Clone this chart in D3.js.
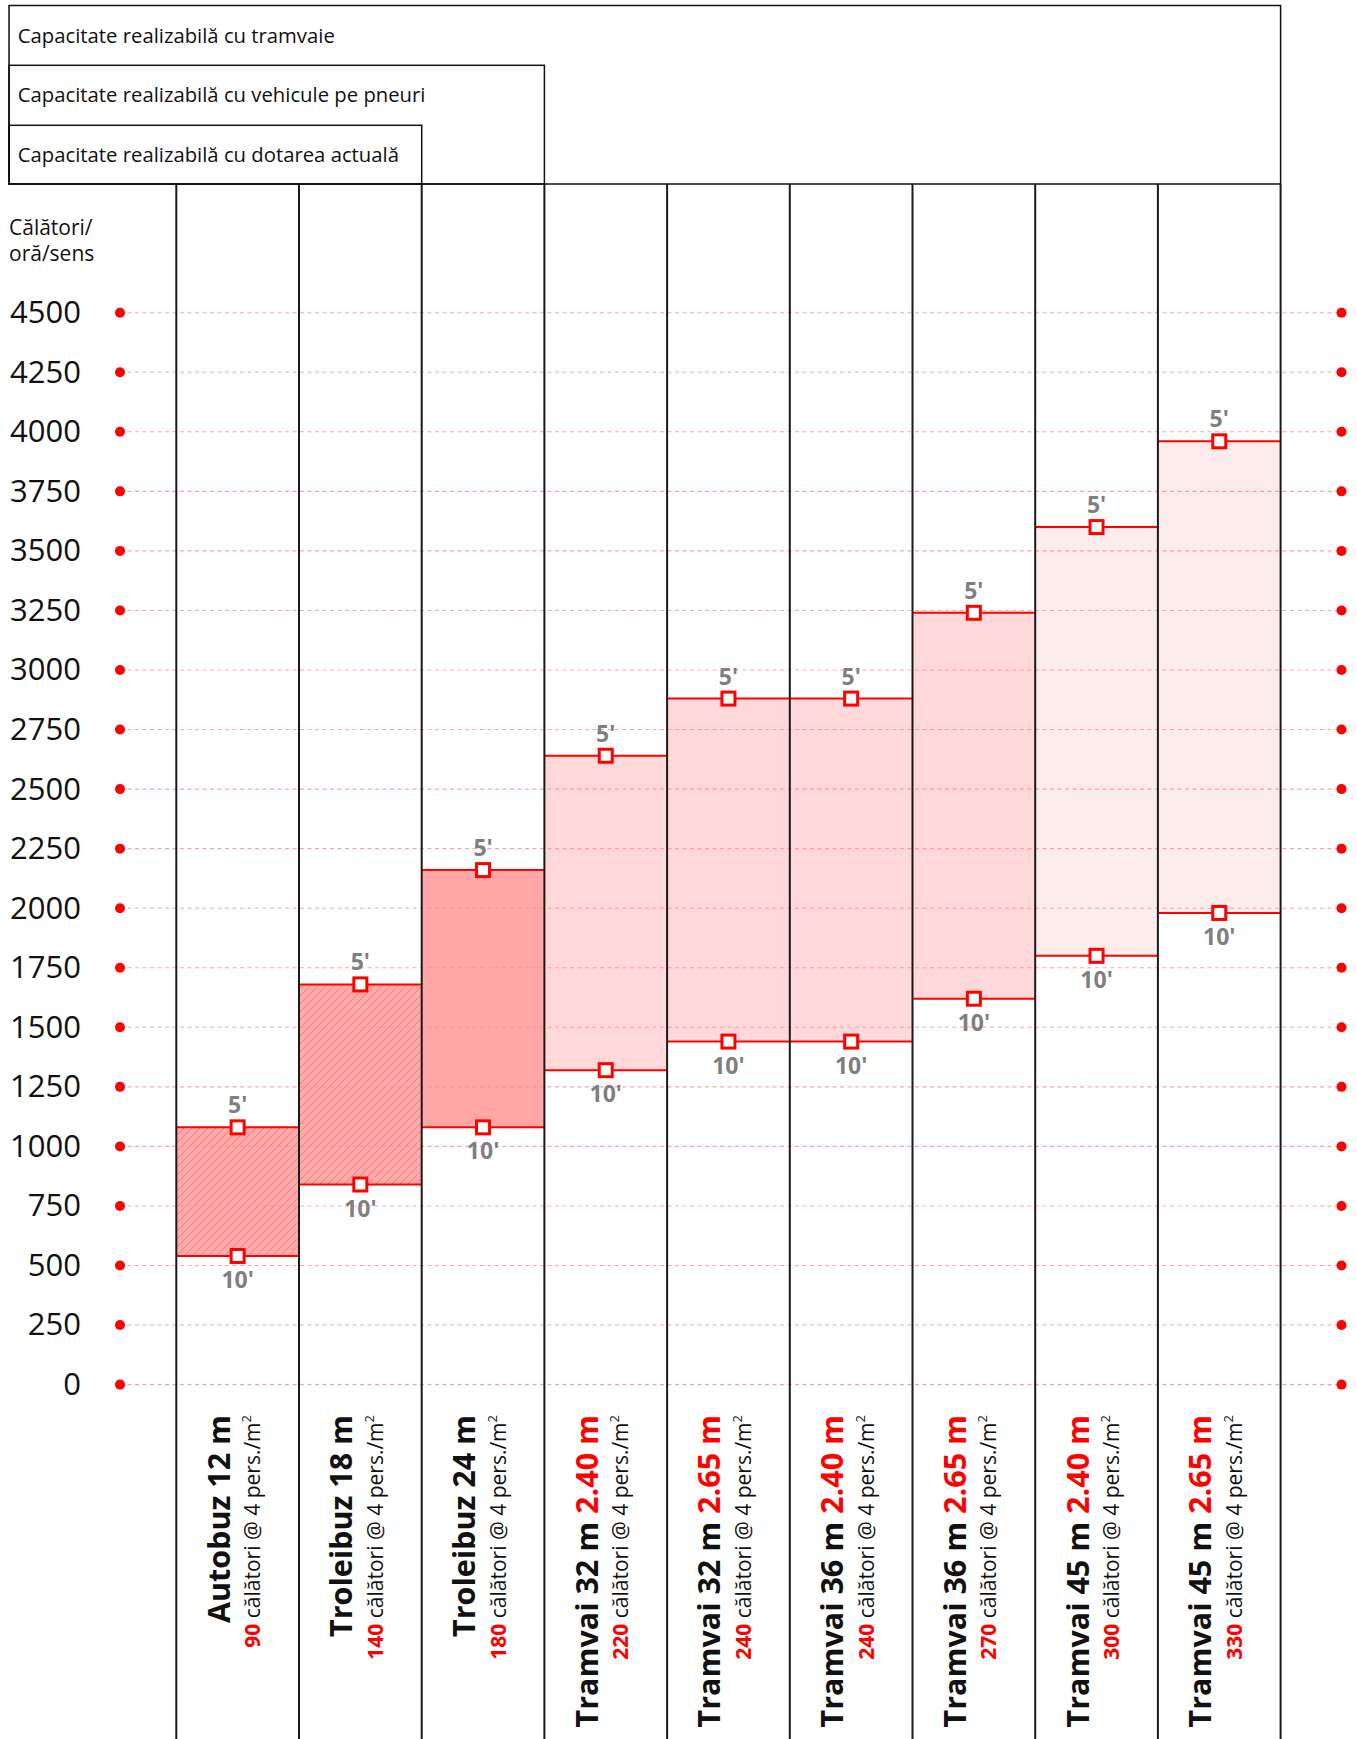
<!DOCTYPE html>
<html>
<head>
<meta charset="utf-8">
<script src="https://cdn.jsdelivr.net/npm/d3@7"></script>
<style>
  body { margin: 0; background: #fff; }
  svg { display: block; font-family: "Open Sans", sans-serif; }
</style>
</head>
<body>
<svg id="chart" width="1357" height="1739"></svg>
<script>
// One column per vehicle type
const vehicles = ["Autobuz 12 m", "Troleibuz 18 m", "Troleibuz 24 m", "Tramvai 32 m", "Tramvai 32 m",
                  "Tramvai 36 m", "Tramvai 36 m", "Tramvai 45 m", "Tramvai 45 m"];
const bodyWidths = ["", "", "", "2.40 m", "2.65 m", "2.40 m", "2.65 m", "2.40 m", "2.65 m"];
const passengers = [90, 140, 180, 220, 240, 240, 270, 300, 330];
// Passengers per hour per direction at a 5-minute and a 10-minute headway
const capacity5 = [1080, 1680, 2160, 2640, 2880, 2880, 3240, 3600, 3960];
const capacity10 = [540, 840, 1080, 1320, 1440, 1440, 1620, 1800, 1980];
// Fleet tier: 0 current fleet, 1 rubber-tyred, 2 tram, 3 long tram
const tiers = [0, 0, 1, 2, 2, 2, 2, 3, 3];
const headwayLabels = ["5'", "10'"];
const yTicks = [0, 250, 500, 750, 1000, 1250, 1500, 1750, 2000, 2250, 2500, 2750, 3000, 3250, 3500, 3750, 4000, 4250, 4500];
const yTitle = ["Călători/", "oră/sens"];
const headerRows = ["Capacitate realizabilă cu tramvaie",
                    "Capacitate realizabilă cu vehicule pe pneuri",
                    "Capacitate realizabilă cu dotarea actuală"];
// last column covered by each header row
const headerLastColumn = [8, 2, 1];
const densityText = " călători @ 4 pers./m";

const svg = d3.select("#chart");
const W = 1357, H = 1739;
const RED = "#ff0000";

const x = d3.scaleBand().domain(d3.range(vehicles.length)).range([176.3, 1280.6]).padding(0);
const y = d3.scaleLinear().domain([0, 4500]).range([1384.6, 312.7]);
const bw = x.bandwidth();
const cx = i => x(i) + bw / 2;

// hatch pattern for the current fleet
const defs = svg.append("defs");
const pat = defs.append("pattern").attr("id", "hatch")
  .attr("patternUnits", "userSpaceOnUse").attr("width", 8).attr("height", 8);
pat.append("rect").attr("width", 8).attr("height", 8).attr("fill", "#ffabab");
pat.append("path").attr("d", "M-2,2 L2,-2 M0,8 L8,0 M6,10 L10,6")
  .attr("stroke", "#ff7878").attr("stroke-width", 1);

const tierFill = ["url(#hatch)", "#ffa6a6", "#ffd9d9", "#fdecec"];

// header boxes
const headerTops = [5.5, 65.3, 125.3];
const headerBottom = 184;
const gHead = svg.append("g");
headerRows.forEach((t, k) => {
  const right = x(headerLastColumn[k]) + bw;
  gHead.append("rect")
    .attr("x", 9).attr("y", headerTops[k])
    .attr("width", right - 9).attr("height", headerBottom - headerTops[k])
    .attr("fill", "none").attr("stroke", "#111").attr("stroke-width", 1.5);
  gHead.append("text")
    .attr("x", 17.8).attr("y", headerTops[k] + 37)
    .attr("font-size", 20.3).attr("fill", "#111").text(t);
});

// y title
svg.append("g").selectAll("text").data(yTitle).join("text")
  .attr("x", 9).attr("y", (d, i) => 235 + i * 25.7)
  .attr("font-size", 21).attr("fill", "#111").text(d => d);

// capacity ranges
const idx = d3.range(vehicles.length);
svg.append("g").selectAll("rect").data(idx).join("rect")
  .attr("x", i => x(i)).attr("width", bw)
  .attr("y", i => y(capacity5[i]))
  .attr("height", i => y(capacity10[i]) - y(capacity5[i]))
  .attr("fill", i => tierFill[tiers[i]]);

// grid lines with end dots
const gGrid = svg.append("g");
gGrid.selectAll("line").data(yTicks).join("line")
  .attr("x1", 120).attr("x2", 1341.5)
  .attr("y1", d => y(d)).attr("y2", d => y(d))
  .attr("stroke", "#ff8c8c").attr("stroke-opacity", 0.8)
  .attr("stroke-width", 1.1).attr("stroke-dasharray", "4,3.5");
gGrid.selectAll("circle.l").data(yTicks).join("circle").attr("class", "l")
  .attr("cx", 120).attr("cy", d => y(d)).attr("r", 5).attr("fill", RED);
gGrid.selectAll("circle.r").data(yTicks).join("circle").attr("class", "r")
  .attr("cx", 1341.5).attr("cy", d => y(d)).attr("r", 5).attr("fill", RED);

// range limit lines
const gLim = svg.append("g");
[capacity5, capacity10].forEach(series => {
  gLim.append("g").selectAll("line").data(idx).join("line")
    .attr("x1", i => x(i)).attr("x2", i => x(i) + bw)
    .attr("y1", i => y(series[i])).attr("y2", i => y(series[i]))
    .attr("stroke", RED).attr("stroke-width", 2);
});

// column dividers
const edges = idx.map(i => x(i)).concat([x(vehicles.length - 1) + bw]);
svg.append("g").selectAll("line").data(edges).join("line")
  .attr("x1", d => d).attr("x2", d => d)
  .attr("y1", headerBottom).attr("y2", H)
  .attr("stroke", "#1a1a1a").attr("stroke-width", 2);

// markers and headway labels
const gMark = svg.append("g");
[capacity5, capacity10].forEach((series, s) => {
  gMark.append("g").selectAll("rect").data(idx).join("rect")
    .attr("x", i => cx(i) - 6.5).attr("y", i => y(series[i]) - 6.5)
    .attr("width", 13).attr("height", 13)
    .attr("fill", "#fff").attr("stroke", RED).attr("stroke-width", 3);
  gMark.append("g").selectAll("text").data(idx).join("text")
    .attr("x", i => cx(i))
    .attr("y", i => y(series[i]) + (s === 0 ? -14 : 32))
    .attr("text-anchor", "middle")
    .attr("font-size", 23).attr("font-weight", 700).attr("fill", "#7f7f7f")
    .text(headwayLabels[s]);
});

// y axis labels
const yAxis = svg.append("g").attr("transform", "translate(81,0)")
  .call(d3.axisLeft(y).tickValues(yTicks).tickFormat(d3.format("d")).tickSize(0).tickPadding(0));
yAxis.select(".domain").remove();
yAxis.selectAll("text")
  .attr("font-family", "'Open Sans', sans-serif")
  .attr("font-size", 31).attr("fill", "#111");

// rotated vehicle labels
const gLab = svg.append("g");
idx.forEach(i => {
  const t1 = gLab.append("text")
    .attr("transform", `translate(${cx(i) - 8},1415) rotate(-90)`)
    .attr("text-anchor", "end").attr("font-size", 30.5).attr("font-weight", 700).attr("fill", "#111");
  t1.append("tspan").text(vehicles[i] + (bodyWidths[i] ? " " : ""));
  if (bodyWidths[i]) t1.append("tspan").attr("fill", RED).text(bodyWidths[i]);

  const t2 = gLab.append("text")
    .attr("transform", `translate(${cx(i) + 22.5},1415) rotate(-90)`)
    .attr("text-anchor", "end").attr("font-size", 21).attr("fill", "#111");
  t2.append("tspan").attr("fill", RED).attr("font-weight", 700).text(passengers[i]);
  t2.append("tspan").text(densityText);
  t2.append("tspan").attr("font-size", 13).attr("dy", -9).text("2");
});
</script>
</body>
</html>
